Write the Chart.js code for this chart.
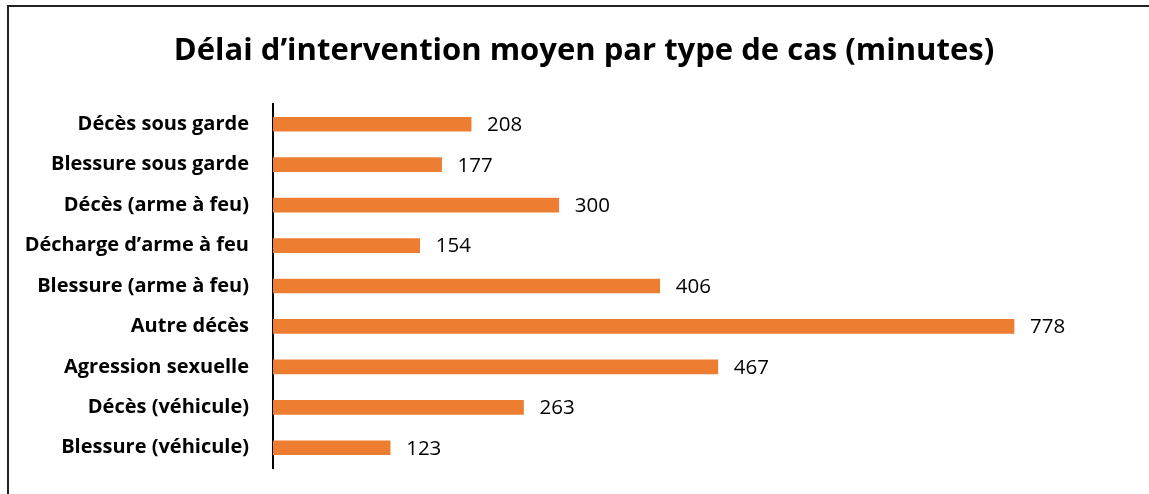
<!DOCTYPE html>
<html>
<head>
<meta charset="utf-8">
<script src="https://cdn.jsdelivr.net/npm/chart.js@4"></script>
<style>
  html, body { margin: 0; padding: 0; background: #fff; overflow: hidden; }
  .frame {
    position: absolute; left: 7px; top: 5px; width: 1160px; height: 510px;
    border-left: 2px solid #222; border-top: 2px solid #222;
  }
  #wrap { position: absolute; left: 0; top: 0; width: 1149px; height: 494px; }
</style>
</head>
<body>
<div class="frame"></div>
<div id="wrap"><canvas id="chart"></canvas></div>
<script>
// données
const categories = [
    "Décès sous garde",
    "Blessure sous garde",
    "Décès (arme à feu)",
    "Décharge d’arme à feu",
    "Blessure (arme à feu)",
    "Autre décès",
    "Agression sexuelle",
    "Décès (véhicule)",
    "Blessure (véhicule)"
];
const delaiMoyen = [208, 177, 300, 154, 406, 778, 467, 263, 123];
const titre = "Délai d’intervention moyen par type de cas (minutes)";

const ORANGE = "#ED7D31";
const FONT = "'Open Sans'";

// étiquettes de valeur à droite des barres
const valueLabels = {
    id: "valueLabels",
    afterDatasetsDraw(chart) {
        const { ctx } = chart;
        const meta = chart.getDatasetMeta(0);
        ctx.save();
        ctx.font = "20.5px " + FONT;
        ctx.fillStyle = "#000";
        ctx.textBaseline = "middle";
        ctx.textAlign = "left";
        meta.data.forEach((bar, i) => {
            ctx.fillText(String(delaiMoyen[i]), bar.x + 16, bar.y + 1);
        });
        ctx.restore();
    }
};

// titre centré sur la zone du cadre (pas sur la zone du graphique)
const centeredTitle = {
    id: "centeredTitle",
    afterDraw(chart) {
        const { ctx } = chart;
        ctx.save();
        ctx.font = "bold 31px " + FONT;
        ctx.fillStyle = "#000";
        ctx.textAlign = "center";
        ctx.textBaseline = "alphabetic";
        ctx.fillText(titre, 584, 60);
        ctx.restore();
    }
};

new Chart(document.getElementById("chart"), {
    type: "bar",
    data: {
        labels: categories,
        datasets: [{
            data: delaiMoyen,
            backgroundColor: ORANGE,
            borderWidth: 0,
            barThickness: 14
        }]
    },
    options: {
        indexAxis: "y",
        responsive: true,
        maintainAspectRatio: false,
        animation: false,
        layout: { padding: { left: 0, right: 114, top: 104, bottom: 26 } },
        plugins: {
            legend: { display: false },
            tooltip: { enabled: false },
            title: { display: false }
        },
        scales: {
            x: {
                display: false,
                min: 0,
                max: 800
            },
            y: {
                grid: { display: false, drawTicks: false },
                border: { display: true, color: "#000", width: 2 },
                ticks: {
                    color: "#000",
                    padding: 24,
                    font: { family: FONT, size: 20, weight: "bold" }
                },
                afterFit(scale) {
                    scale.width = 273;
                    // le padding des ticks ne doit pas rogner la zone verticale
                    scale.paddingTop = 0;
                    scale.paddingBottom = 0;
                }
            }
        }
    },
    plugins: [valueLabels, centeredTitle]
});
</script>
</body>
</html>
